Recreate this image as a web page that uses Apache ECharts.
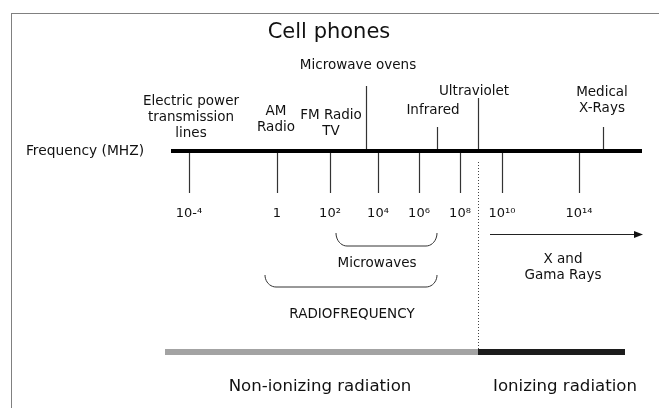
<!DOCTYPE html>
<html><head><meta charset="utf-8">
<script src="https://cdn.jsdelivr.net/npm/echarts@6/dist/echarts.min.js"></script>
<style>html,body{margin:0;padding:0;background:#fff}#c{width:659px;height:408px}</style>
</head><body><div id="c"></div><script>
// ---- Data (positions are in schematic diagram units along the frequency scale) ----
const title = 'Cell phones';
const axisName = 'Frequency (MHZ)';
const axisFrom = 171, axisTo = 642, axisLevel = 151;

// Frequency tick labels (MHz) and their schematic positions
const tickLabels = ['10-⁴', '1', '10²', '10⁴', '10⁶', '10⁸', '10¹⁰', '10¹⁴'];
const tickPos = [189, 277, 330, 378, 419, 460, 502, 579];
const tickEnd = 193, tickLabelLevel = 214;

// Sources marked above the axis
const upperTickPos = [366, 437, 478, 603];
const upperTickTop = [86, 127, 98, 127];

// Labels of the sources
const sourceLabels = ['Electric power\ntransmission\nlines', 'AM\nRadio', 'FM Radio\nTV',
  'Microwave ovens', 'Infrared', 'Ultraviolet', 'Medical\nX-Rays'];
const sourceLabelX = [191, 276, 331, 358, 433, 474, 602];
const sourceLabelY = [117, 119, 123, 65, 110, 91, 100];

// Bands (braces)
const bandLabels = ['Microwaves', 'RADIOFREQUENCY'];
const bandFrom = [336, 265];
const bandTo = [437, 437];
const braceTop = [233, 275];
const braceBottom = [246, 287];
const bandLabelX = [377, 352];
const bandLabelY = [263, 314];

// X and gamma rays arrow
const rayLabel = 'X and\nGama Rays';
const rayFrom = 490, rayTo = 643, rayLevel = 234, rayLabelX = 563, rayLabelY = 267;

// Ionizing boundary and regions
const boundaryPos = 478, boundaryTop = 162;
const regionLabels = ['Non-ionizing radiation', 'Ionizing radiation'];
const regionFrom = [165, 478];
const regionTo = [478, 625];
const regionLevel = 352;
const regionLabelX = [320, 565];
const regionLabelY = 387;

// Frame (top and left edges only)
const frameLeft = 11, frameTop = 13, frameRight = 659, frameBottom = 408;

// ---- Rendering ----
const FONT = '"DejaVu Sans", Verdana, sans-serif';
const INK = '#111';
const TICK = '#333';
const crisp = (v, w) => (Math.round(w) % 2 === 1 ? Math.round(v - 0.5) + 0.5 : Math.round(v));

function segment(api, x1, y1, x2, y2, style) {
  const a = api.coord([x1, y1]), b = api.coord([x2, y2]);
  const w = style.lineWidth || 1;
  if (Math.abs(a[0] - b[0]) < 0.01) { a[0] = b[0] = crisp(a[0], w); }
  if (Math.abs(a[1] - b[1]) < 0.01) { a[1] = b[1] = crisp(a[1], w); }
  return { type: 'line', shape: { x1: a[0], y1: a[1], x2: b[0], y2: b[1] }, style: Object.assign({ fill: null }, style) };
}

// texts: [x, y, text, fontSize]
const texts = [];
texts.push([329, 33, title, 21]);
texts.push([85, axisLevel, axisName, 13.8]);
sourceLabels.forEach((t, i) => texts.push([sourceLabelX[i], sourceLabelY[i], t, 13.5]));
tickLabels.forEach((t, i) => texts.push([tickPos[i], tickLabelLevel, t, 13]));
bandLabels.forEach((t, i) => texts.push([bandLabelX[i], bandLabelY[i], t, 13.5]));
texts.push([rayLabelX, rayLabelY, rayLabel, 13.5]);
regionLabels.forEach((t, i) => texts.push([regionLabelX[i], regionLabelY, t, 16.6]));

const series = [
  { // frame
    type: 'custom', coordinateSystem: 'cartesian2d', silent: true, clip: false,
    data: [[frameLeft, frameTop, frameRight, frameTop], [frameLeft, frameTop, frameLeft, frameBottom]],
    renderItem: (params, api) => segment(api, api.value(0), api.value(1), api.value(2), api.value(3), { stroke: '#808080', lineWidth: 1 })
  },
  { // lower ticks
    type: 'custom', coordinateSystem: 'cartesian2d', silent: true,
    data: tickPos.map(p => [p, axisLevel]),
    renderItem: (params, api) => segment(api, api.value(0), axisLevel, api.value(0), tickEnd, { stroke: TICK, lineWidth: 1.2 })
  },
  { // upper ticks
    type: 'custom', coordinateSystem: 'cartesian2d', silent: true,
    data: upperTickPos.map((p, i) => [p, upperTickTop[i]]),
    renderItem: (params, api) => segment(api, api.value(0), api.value(1), api.value(0), axisLevel, { stroke: TICK, lineWidth: 1.2 })
  },
  { // main frequency axis
    type: 'custom', coordinateSystem: 'cartesian2d', silent: true,
    data: [[axisFrom, axisLevel, axisTo]],
    renderItem: (params, api) => segment(api, api.value(0), axisLevel, api.value(2), axisLevel, { stroke: '#000', lineWidth: 4 })
  },
  { // boundary dotted line
    type: 'custom', coordinateSystem: 'cartesian2d', silent: true,
    data: [[boundaryPos, boundaryTop]],
    renderItem: (params, api) => segment(api, boundaryPos, boundaryTop, boundaryPos, regionLevel, { stroke: '#444', lineWidth: 1, lineDash: [1, 2] })
  },
  { // region bars
    type: 'custom', coordinateSystem: 'cartesian2d', silent: true,
    data: regionFrom.map((f, i) => [f, regionLevel, regionTo[i]]),
    renderItem: (params, api) => segment(api, api.value(0), regionLevel, api.value(2), regionLevel,
      { stroke: params.dataIndex === 0 ? '#a3a3a3' : '#1c1c1c', lineWidth: 6, lineCap: 'butt' })
  },
  { // braces
    type: 'custom', coordinateSystem: 'cartesian2d', silent: true,
    data: bandFrom.map((f, i) => [f, braceTop[i], bandTo[i], braceBottom[i]]),
    renderItem: (params, api) => {
      const x0 = api.value(0), yt = api.value(1), x1 = api.value(2), yb = api.value(3);
      const r = 11, pts = [];
      for (let k = 0; k <= 10; k++) { const t = k / 10 * Math.PI / 2; pts.push([x0 + r * (1 - Math.cos(t)), yt + (yb - yt) * Math.sin(t)]); }
      for (let k = 10; k >= 0; k--) { const t = k / 10 * Math.PI / 2; pts.push([x1 - r * (1 - Math.cos(t)), yt + (yb - yt) * Math.sin(t)]); }
      return { type: 'polyline', shape: { points: pts.map(p => api.coord(p)) }, style: { stroke: '#333', lineWidth: 1, fill: null } };
    }
  },
  { // X and gamma rays arrow
    type: 'custom', coordinateSystem: 'cartesian2d', silent: true,
    data: [[rayFrom, rayLevel, rayTo]],
    renderItem: (params, api) => {
      const a = api.coord([api.value(0), rayLevel]), b = api.coord([api.value(2), rayLevel]);
      const y = crisp(a[1], 1);
      return { type: 'group', children: [
        { type: 'line', shape: { x1: a[0], y1: y, x2: b[0] - 6, y2: y }, style: { stroke: '#222', lineWidth: 1 } },
        { type: 'polygon', shape: { points: [[b[0], y], [b[0] - 9, y - 3.5], [b[0] - 9, y + 3.5]] }, style: { fill: '#111' } }
      ] };
    }
  },
  { // all texts
    type: 'custom', coordinateSystem: 'cartesian2d', silent: true,
    data: texts.map(t => [t[0], t[1]]),
    renderItem: (params, api) => {
      const t = texts[params.dataIndex];
      const p = api.coord([api.value(0), api.value(1)]);
      return { type: 'text', x: p[0], y: p[1], style: {
        text: t[2], fill: INK, fontSize: t[3], fontFamily: FONT,
        align: 'center', verticalAlign: 'middle', lineHeight: Math.round(t[3] * 1.2)
      } };
    }
  }
];

const chart = echarts.init(document.getElementById('c'), null, { renderer: 'canvas' });
chart.setOption({
  animation: false,
  backgroundColor: '#fff',
  grid: { left: 0, top: 0, right: 0, bottom: 0, show: false },
  xAxis: { type: 'value', min: 0, max: 659, show: false },
  yAxis: { type: 'value', min: 0, max: 408, inverse: true, show: false },
  series
});
</script></body></html>
